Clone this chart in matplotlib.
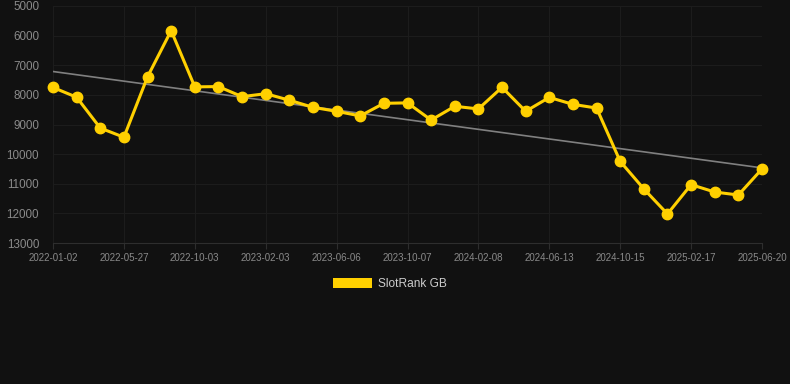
import numpy as np
import matplotlib
matplotlib.use("Agg")
import matplotlib.pyplot as plt
from matplotlib.patches import Patch

# data
dates = ['2022-01-02', '2022-02-13', '2022-04-07', '2022-05-27', '2022-07-08', '2022-08-20',
         '2022-10-03', '2022-11-14', '2022-12-25', '2023-02-03', '2023-03-16', '2023-04-26',
         '2023-06-06', '2023-07-17', '2023-08-27', '2023-10-07', '2023-11-18', '2023-12-29',
         '2024-02-08', '2024-03-20', '2024-05-02', '2024-06-13', '2024-07-24', '2024-09-03',
         '2024-10-15', '2024-11-26', '2025-01-07', '2025-02-17', '2025-03-30', '2025-05-10',
         '2025-06-20']
rank = [7750, 8080, 9120, 9430, 7390, 5830, 7730, 7720, 8060, 7960, 8180, 8420,
        8555, 8710, 8285, 8270, 8850, 8385, 8475, 7745, 8555, 8085, 8320, 8445,
        10245, 11175, 12020, 11030, 11280, 11380, 10500]
series_name = 'SlotRank GB'

BG = '#111111'
YELLOW = '#FFD000'

x = np.arange(len(rank))
k, b = np.polyfit(x, rank, 1)

fig = plt.figure(figsize=(7.9, 3.84), dpi=100, facecolor=BG)
ax = fig.add_axes([53/790, 1 - 243/384, (762 - 53)/790, 237/384])
ax.set_facecolor(BG)

ax.plot(x, k * x + b, color='#808080', lw=1.2, zorder=2)
ax.plot(x, rank, color=YELLOW, lw=2.2, marker='o', ms=7.5, zorder=3, clip_on=False)

ax.set_xlim(0, len(rank) - 1)
ax.set_ylim(13000, 5000)
ax.set_yticks(range(5000, 13001, 1000))
ax.set_xticks(x[::3])
ax.set_xticklabels(dates[::3])

ax.grid(True, color='#1c1c1c', lw=0.8)
ax.set_axisbelow(True)
for s in ['top', 'right', 'left']:
    ax.spines[s].set_visible(False)
ax.spines['bottom'].set_color('#2e2e2e')
ax.tick_params(axis='x', colors='#2e2e2e', labelcolor='#8a8a8a', labelsize=7, length=4, pad=3)
ax.tick_params(axis='y', length=0, labelcolor='#8a8a8a', labelsize=8.4, pad=10)
for t in ax.get_xticklabels() + ax.get_yticklabels():
    t.set_fontfamily('Liberation Sans')

leg = fig.legend(handles=[Patch(facecolor=YELLOW, label=series_name)],
                 loc='center', bbox_to_anchor=(390/790, 1 - 284/384),
                 frameon=False, handlelength=3.3, handleheight=1.0, handletextpad=0.5,
                 prop={'family': 'Liberation Sans', 'size': 8.6})
for t in leg.get_texts():
    t.set_color('#cccccc')

fig.savefig('out.png', dpi=100, facecolor=BG)
